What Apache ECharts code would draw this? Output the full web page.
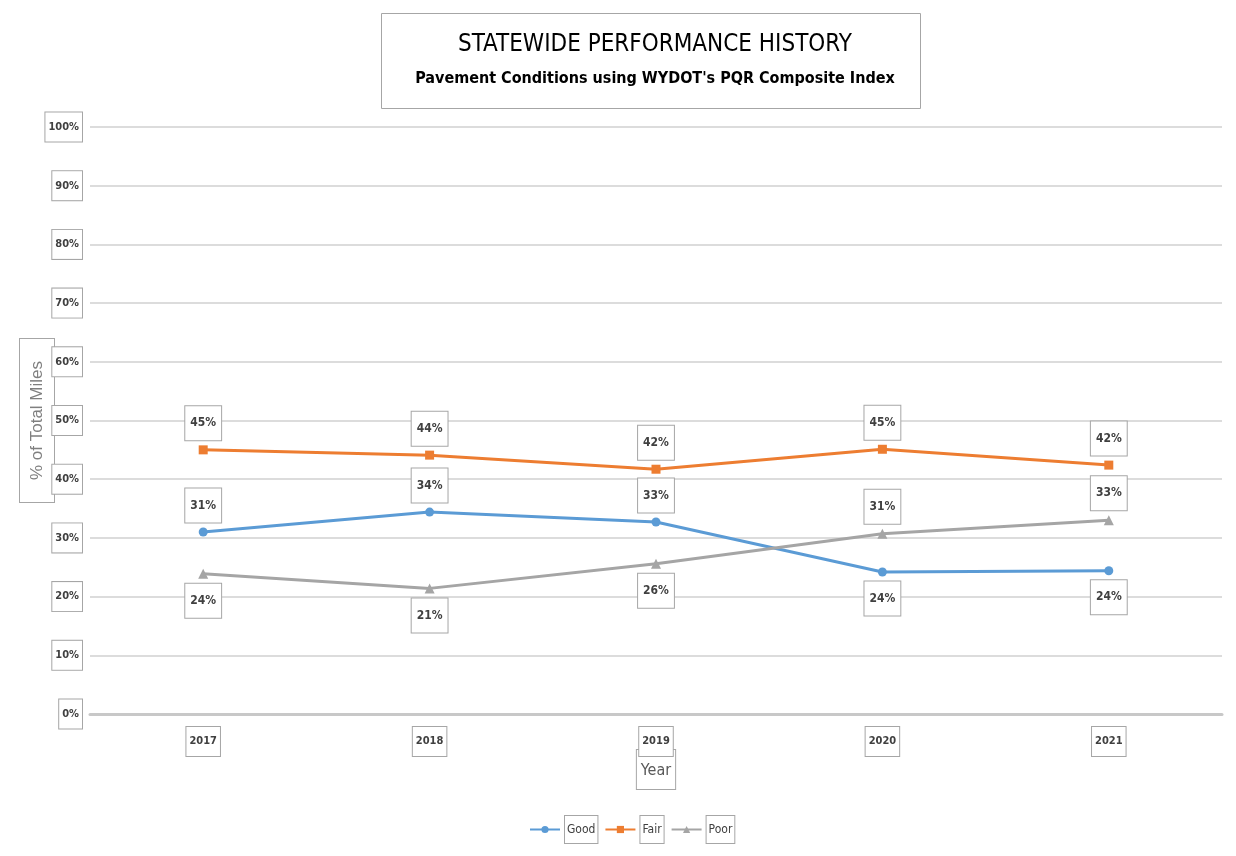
<!DOCTYPE html>
<html>
<head>
<meta charset="utf-8">
<script src="https://cdn.jsdelivr.net/npm/echarts@6/dist/echarts.min.js"></script>
<style>html,body{margin:0;padding:0;background:#fff}#c{width:1236px;height:856px}</style>
</head>
<body>
<div id="c"></div>
<script>
const years = ['2017', '2018', '2019', '2020', '2021'];
const good = [31.0, 34.4, 32.7, 24.2, 24.4];
const fair = [45.0, 44.1, 41.7, 45.1, 42.4];
const poor = [23.9, 21.4, 25.6, 30.7, 33.0];
const yTicks = [0, 10, 20, 30, 40, 50, 60, 70, 80, 90, 100];

const FONT = '"DejaVu Sans Condensed", "Liberation Sans Narrow", "Arial Narrow", "Liberation Sans", sans-serif';
function isMin(v, i) { return v <= Math.min(good[i], fair[i], poor[i]); }

const boxStyle = {
  fontFamily: FONT, fontWeight: 'bold', fontSize: 11, color: '#404040',
  backgroundColor: '#fff', borderColor: '#a6a6a6', borderWidth: 1, padding: [9, 3, 9, 3]
};

function mkSeries(name, arr, color, symbol) {
  return {
    name: name, type: 'line', data: arr.map((v, i) => ({
      value: v,
      label: { position: isMin(v, i) ? 'bottom' : 'top' }
    })),
    symbol: symbol, symbolSize: symbol === 'triangle' ? 10 : 9,
    lineStyle: { color: color, width: 3 },
    itemStyle: { color: color },
    label: Object.assign({}, boxStyle, { show: true, distance: 5, padding: [11, 5, 11, 5], fontSize: 12, formatter: p => Math.round(p.value) + '%' }),
    z: 3
  };
}

const chart = echarts.init(document.getElementById('c'));
chart.setOption({
  animation: false,
  backgroundColor: '#fff',
  title: {
    text: 'STATEWIDE PERFORMANCE HISTORY',
    subtext: "Pavement Conditions using WYDOT's PQR Composite Index",
    left: 650, top: 28, textAlign: 'center', itemGap: 14,
    textStyle: { fontFamily: FONT, fontSize: 24, fontWeight: 'normal', color: '#000' },
    subtextStyle: { fontFamily: FONT, fontSize: 16, fontWeight: 'bold', color: '#000' }
  },
  graphic: [
    { type: 'rect', shape: { x: 381.5, y: 13.5, width: 539, height: 95 }, style: { fill: 'none', stroke: '#a6a6a6', lineWidth: 1 }, z: -1 }
  ],
  legend: {
    bottom: 7, left: 524, itemWidth: 30, itemHeight: 9, itemGap: 6,
    data: ['Good', 'Fair', 'Poor'],
    textStyle: { fontFamily: FONT, fontSize: 12, color: '#404040', borderColor: '#a6a6a6', borderWidth: 1, padding: [8, 2, 7, 2], backgroundColor: '#fff' }
  },
  grid: { left: 90, right: 14, top: 127, bottom: 142, outerBoundsMode: 'none', containLabel: false },
  xAxis: {
    type: 'category', data: years, boundaryGap: true,
    name: 'Year', nameLocation: 'middle', nameGap: 36, nameMoveOverlap: false,
    nameTextStyle: { fontFamily: FONT, fontSize: 16, color: '#595959', borderColor: '#a6a6a6', borderWidth: 1, padding: [13, 4, 10, 4], backgroundColor: '#fff', verticalAlign: 'top' },
    axisLine: { lineStyle: { color: '#c8c8c8', width: 3 } },
    axisTick: { show: false },
    axisLabel: Object.assign({ margin: 13 }, boxStyle)
  },
  yAxis: {
    type: 'value', min: 0, max: 100, interval: 10,
    name: '% of Total Miles', nameLocation: 'middle', nameGap: 36, nameRotate: 90, nameMoveOverlap: false,
    nameTextStyle: { fontFamily: '"Liberation Sans", sans-serif', fontSize: 17, color: '#7f7f7f', borderColor: '#a6a6a6', borderWidth: 1, padding: [9, 22, 8, 22], backgroundColor: '#fff', verticalAlign: 'bottom' },
    axisLine: { show: false }, axisTick: { show: false },
    splitLine: { lineStyle: { color: '#dcdcdc', width: 2 } },
    axisLabel: Object.assign({ margin: 8, formatter: v => yTicks.includes(v) ? v + '%' : '' }, boxStyle)
  },
  series: [
    mkSeries('Good', good, '#5B9BD5', 'circle'),
    mkSeries('Fair', fair, '#ED7D31', 'rect'),
    mkSeries('Poor', poor, '#A5A5A5', 'triangle')
  ]
});
</script>
</body>
</html>
